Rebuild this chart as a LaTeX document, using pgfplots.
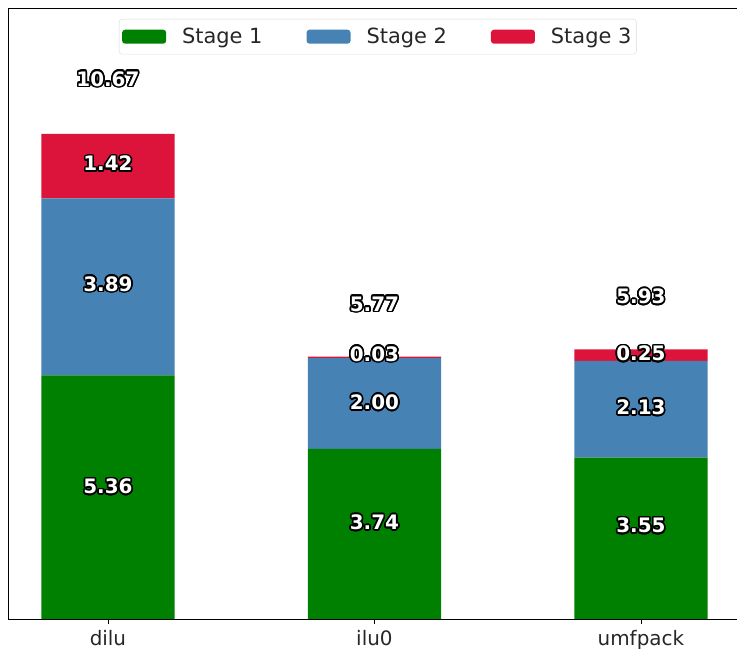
\documentclass[border=0pt]{standalone}
\usepackage{pgfplots}
\usepackage{pgfplotstable}
\pgfplotsset{compat=1.18}
\usepackage{fontspec}
\setmainfont{DejaVu Sans}
\usepackage{contour}
\contourlength{1.6bp}
\contournumber{20}
\definecolor{mplgreen}{HTML}{008000}
\definecolor{steelblue}{HTML}{4682B4}
\definecolor{crimson}{HTML}{DC143C}

\pgfplotstableread{
x s1 s2 s3
0 5.36 3.89 1.42
1 3.74 2.00 0.03
2 3.55 2.13 0.25
}\bars

\pgfplotstableread{
x y label
0 2.90 5.36
0 7.35 3.89
0 10.00 1.42
0 11.86 10.67
1 2.11 3.74
1 4.75 2.00
1 5.81 0.03
1 6.91 5.77
2 2.04 3.55
2 4.64 2.13
2 5.82 0.25
2 7.08 5.93
}\labels

\pgfplotsset{
  common/.style={
    scale only axis,
    width=739.5bp, height=611bp,
    xmin=-0.375, xmax=2.40,
    ymin=0, ymax=13.44,
    enlargelimits=false,
    at={(8bp,30bp)}, anchor=south west,
  }
}

\begin{document}
\begin{tikzpicture}
\begin{axis}[
  common,
  ybar stacked,
  bar width=0.5,
  axis line style={draw=none},
  after end axis/.code={
    \draw[black, line width=0.8bp] (rel axis cs:1,0) -- (rel axis cs:0,0) -- (rel axis cs:0,1) -- (rel axis cs:1,1);
  },
  ytick=\empty,
  xtick={0,1,2},
  xticklabels={dilu, ilu0, umfpack},
  xtick pos=bottom,
  tick align=outside,
  major tick length=5bp,
  every tick/.style={black, line width=0.8bp},
  tick label style={font=\fontsize{20}{24}\selectfont, text=black!85},
  xticklabel style={yshift=-3bp},
  legend style={
    at={(0.5,1)}, anchor=north, yshift=-11bp,
    legend columns=3,
    draw=black!15, rounded corners=3bp,
    font=\fontsize{21}{25}\selectfont,
    text=black!85,
    inner xsep=3bp, inner ysep=7bp,
    /tikz/every odd column/.append style={column sep=14bp},
    /tikz/every even column/.append style={column sep=42bp},
  },
  legend image code/.code={\fill[#1] (0bp,-7bp) rectangle (44bp,7bp);},
  legend cell align=left,
]
\addplot[fill=mplgreen, draw=none] table[x=x, y=s1] {\bars};
\addlegendentry{Stage 1}
\addplot[fill=steelblue, draw=none] table[x=x, y=s2] {\bars};
\addlegendentry{Stage 2}
\addplot[fill=crimson, draw=none] table[x=x, y=s3] {\bars};
\addlegendentry{Stage 3}
\end{axis}
\begin{axis}[
  common,
  hide axis,
  clip=false,
]
\addplot[draw=none, mark=none,
  point meta=explicit symbolic,
  nodes near coords={\textcolor{white}{\contour{black}{\pgfplotspointmeta}}},
  nodes near coords align={center},
  every node near coord/.append style={font=\bfseries\fontsize{20}{24}\selectfont, inner sep=0pt},
] table[x=x, y=y, meta=label] {\labels};
\end{axis}
\pgfresetboundingbox
\useasboundingbox (0,0) rectangle (737bp,649bp);
\end{tikzpicture}
\end{document}
